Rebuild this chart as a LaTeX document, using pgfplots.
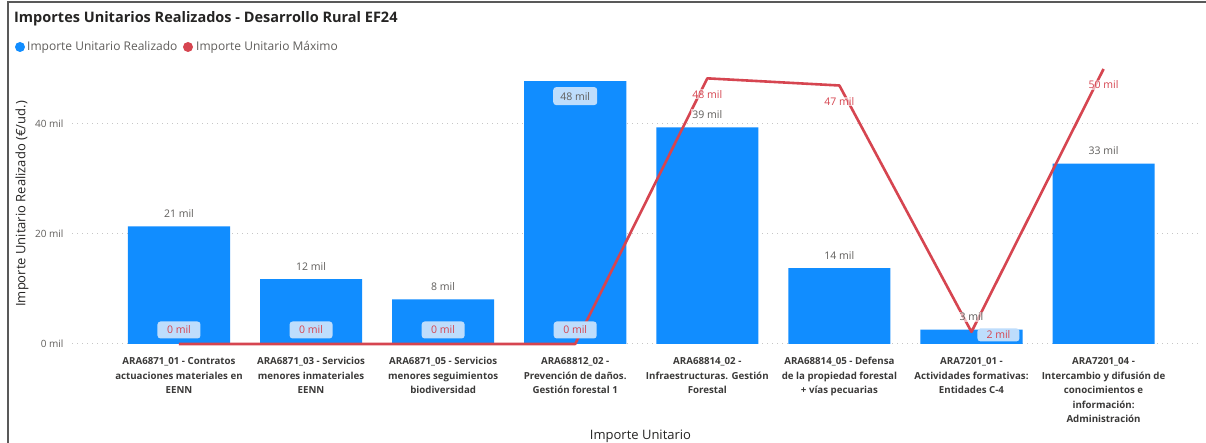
\documentclass[border=0pt]{standalone}
\usepackage{pgfplots}
\pgfplotsset{compat=1.18}
\usepackage{fontspec}
\setmainfont{Open Sans}
\definecolor{barblue}{HTML}{118DFF}
\definecolor{linered}{HTML}{D64550}
\definecolor{boxblue}{RGB}{190,221,252}
\definecolor{labgrey}{HTML}{605E5C}
\definecolor{catgrey}{HTML}{3B3A39}
\definecolor{titleblack}{HTML}{252423}
\begin{document}
\begin{tikzpicture}[x=1pt,y=1pt]
\useasboundingbox (0,0) rectangle (1206,443);
\fill[white] (0,0) rectangle (1206,443);
\draw[line width=1.5pt, gray!70!black] (8,0) -- (8,441) -- (1206,441);
\node[anchor=west, inner sep=0pt, text=titleblack, font=\fontsize{14.5}{16}\selectfont\bfseries] at (14,424) {Importes Unitarios Realizados - Desarrollo Rural EF24};
\fill[barblue] (20,396) circle (5);
\node[anchor=west, inner sep=0pt, text=labgrey, font=\fontsize{12}{14}\selectfont] at (27,396) {Importe Unitario Realizado};
\fill[linered] (188,396) circle (5);
\node[anchor=west, inner sep=0pt, text=labgrey, font=\fontsize{12}{14}\selectfont] at (196,396) {Importe Unitario Máximo};
\begin{axis}[
  at={(72pt,99pt)}, anchor=south west,
  scale only axis, width=1128pt, height=286pt,
  xmin=-0.81, xmax=7.73, ymin=0, ymax=52,
  axis line style={draw=none},
  major tick length=0pt,
  clip=false,
  ymajorgrids,
  grid style={gray!45, line width=1pt, dash pattern=on 1pt off 4pt},
  ytick={0,20,40},
  yticklabels={0 mil,20 mil,40 mil},
  yticklabel style={anchor=east, xshift=-5pt, text=labgrey, font=\fontsize{10}{11}\selectfont},
  xtick={0,1,2,3,4,5,6,7},
  xticklabels={
    {ARA6871\_01 - Contratos\\actuaciones materiales en\\EENN},
    {ARA6871\_03 - Servicios\\menores inmateriales\\EENN},
    {ARA6871\_05 - Servicios\\menores seguimientos\\biodiversidad},
    {ARA68812\_02 -\\Prevención de daños.\\Gestión forestal 1},
    {ARA68814\_02 -\\Infraestructuras. Gestión\\Forestal},
    {ARA68814\_05 - Defensa\\de la propiedad forestal\\+ vías pecuarias},
    {ARA7201\_01 -\\Actividades formativas:\\Entidades C-4},
    {ARA7201\_04 -\\Intercambio y difusión de\\conocimientos e\\información:\\Administración}},
  xticklabel style={anchor=north, yshift=-10pt, align=center, text=catgrey, font=\fontsize{9.7}{14.5}\selectfont\bfseries},
  ylabel={Importe Unitario Realizado (€/ud.)},
  ylabel style={at={(axis description cs:-0.0443,0.49)}, rotate=0, anchor=center, text=titleblack, font=\fontsize{13}{15}\selectfont},
  xlabel={Importe Unitario},
  xlabel style={at={(axis description cs:0.504,-0.323)}, anchor=center, text=titleblack, font=\fontsize{13}{15}\selectfont},
]
\addplot[ybar, bar width=0.773, fill=barblue, draw=none] coordinates {
  (0,21.4) (1,11.8) (2,8.1) (3,47.8) (4,39.4) (5,13.8) (6,2.6) (7,32.8)};
\addplot[color=linered, line width=2.6pt, line join=round] coordinates {
  (0,0) (1,0) (2,0) (3,0) (4,48.3) (5,47.0) (6,2.2) (7,50.0)};
% bar labels above bars
\addplot[draw=none, nodes near coords, point meta=explicit symbolic,
  nodes near coords style={anchor=center, yshift=13pt, text=labgrey, fill=white, fill opacity=0.6, text opacity=1, inner sep=1pt, font=\fontsize{10.5}{12}\selectfont}]
  coordinates {(0,21.4)[21 mil] (1,11.8)[12 mil] (2,8.1)[8 mil] (4,39.4)[39 mil] (5,13.8)[14 mil] (6,2.6)[3 mil] (7,32.8)[33 mil]};
% bar label inside bar 4
\addplot[draw=none, nodes near coords, point meta=explicit symbolic,
  nodes near coords style={anchor=center, yshift=-15pt, text=labgrey, fill=boxblue, rounded corners=3pt, minimum width=44pt, minimum height=18pt, inner sep=1pt, font=\fontsize{10.5}{12}\selectfont}]
  coordinates {(3,47.8)[48 mil]};
% zero labels of line
\addplot[draw=none, nodes near coords, point meta=explicit symbolic,
  nodes near coords style={anchor=center, yshift=14pt, text=linered, fill=boxblue, rounded corners=3pt, minimum width=43pt, minimum height=17pt, inner sep=1pt, font=\fontsize{10.5}{12}\selectfont}]
  coordinates {(0,0)[0 mil] (1,0)[0 mil] (2,0)[0 mil] (3,0)[0 mil]};
% high labels of line
\addplot[draw=none, nodes near coords, point meta=explicit symbolic,
  nodes near coords style={anchor=center, yshift=-16pt, text=linered, fill=white, fill opacity=0.6, text opacity=1, inner sep=1pt, font=\fontsize{10.5}{12}\selectfont}]
  coordinates {(4,48.3)[48 mil] (5,47.0)[47 mil] (7,50.0)[50 mil]};
% 2 mil label
\addplot[draw=none, nodes near coords, point meta=explicit symbolic,
  nodes near coords style={anchor=center, xshift=27pt, yshift=-3pt, text=linered, fill=boxblue, rounded corners=3pt, minimum width=42pt, minimum height=13pt, inner sep=1pt, font=\fontsize{10.5}{12}\selectfont}]
  coordinates {(6,2.2)[2 mil]};
\end{axis}
\end{tikzpicture}
\end{document}
